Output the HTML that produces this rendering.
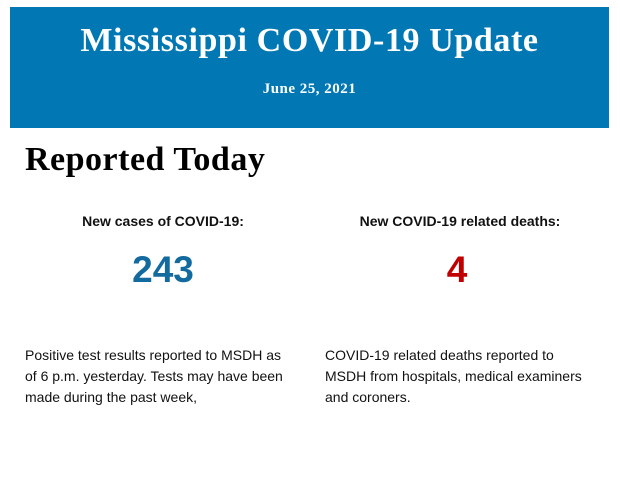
<!DOCTYPE html>
<html><head><style>
body{margin:0;width:620px;height:483px;background:#fff;position:relative;overflow:hidden;font-family:"Liberation Sans",sans-serif}
.band{position:absolute;left:10px;top:7px;width:599px;height:121px;background:#0177b3;color:#fff;text-align:center;font-family:"Liberation Serif",serif;font-weight:bold}
.t{position:absolute;left:0;right:0;top:15px;font-size:34px;letter-spacing:0.6px}
.d{position:absolute;left:0;right:0;top:74px;font-size:15px;letter-spacing:0.5px}
h1{position:absolute;left:25px;top:141px;margin:0;font-family:"Liberation Serif",serif;font-size:34px;font-weight:bold;color:#000;letter-spacing:0.5px}
.l{position:absolute;top:213px;font-size:14px;font-weight:bold;color:#111;text-align:center;width:280px}
.n{position:absolute;top:249px;font-size:37px;font-weight:bold;text-align:center;width:280px}
.p{position:absolute;top:345px;font-size:14px;line-height:21px;color:#111;white-space:nowrap}
</style></head><body>
<div class="band"><div class="t">Mississippi COVID-19 Update</div><div class="d">June 25, 2021</div></div>
<h1>Reported Today</h1>
<div class="l" style="left:23px">New cases of COVID-19:</div>
<div class="l" style="left:320px">New COVID-19 related deaths:</div>
<div class="n" style="left:23px;color:#136a9e">243</div>
<div class="n" style="left:317px;color:#c00000">4</div>
<div class="p" style="left:25px">Positive test results reported to MSDH as<br>of 6 p.m. yesterday. Tests may have been<br>made during the past week,</div>
<div class="p" style="left:325px">COVID-19 related deaths reported to<br>MSDH from hospitals, medical examiners<br>and coroners.</div>
</body></html>
